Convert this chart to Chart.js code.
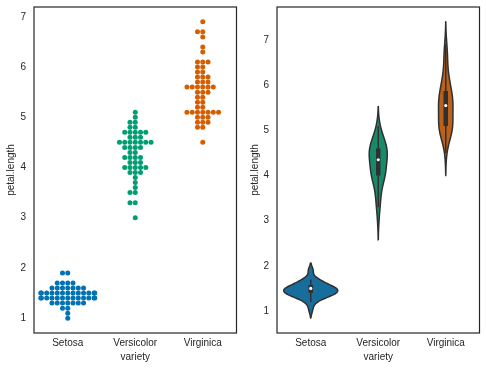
<!DOCTYPE html>
<html>
<head>
<meta charset="utf-8">
<script src="https://cdn.jsdelivr.net/npm/chart.js@4.4.0/dist/chart.umd.min.js"></script>
<style>
  html, body { margin: 0; padding: 0; background: #fff; }
  .wrap { display: flex; width: 486px; height: 369px; }
  .panel { position: relative; width: 243px; height: 369px; }
</style>
</head>
<body>
<div class="wrap">
  <div class="panel"><canvas id="swarm"></canvas></div>
  <div class="panel"><canvas id="violin"></canvas></div>
</div>
<script>
const categories = ['Setosa', 'Versicolor', 'Virginica'];
const yTicks = [1, 2, 3, 4, 5, 6, 7];

// petal length values and how many flowers have each one
const setosaLengths = [1.0, 1.1, 1.2, 1.3, 1.4, 1.5, 1.6, 1.7, 1.9];
const setosaCounts = [1, 1, 2, 7, 13, 13, 7, 4, 2];
const versicolorLengths = [3.0, 3.3, 3.5, 3.6, 3.7, 3.8, 3.9, 4.0, 4.1, 4.2, 4.3, 4.4, 4.5, 4.6, 4.7, 4.8, 4.9, 5.0, 5.1];
const versicolorCounts = [1, 2, 2, 1, 1, 1, 3, 5, 3, 4, 2, 4, 7, 3, 5, 2, 2, 1, 1];
const virginicaLengths = [4.5, 4.8, 4.9, 5.0, 5.1, 5.2, 5.3, 5.4, 5.5, 5.6, 5.7, 5.8, 5.9, 6.0, 6.1, 6.3, 6.4, 6.6, 6.7, 6.9];
const virginicaCounts = [1, 2, 3, 3, 7, 2, 2, 2, 3, 6, 3, 3, 2, 2, 3, 1, 1, 1, 2, 1];

const dotColors = ['#0173b2', '#029e73', '#d55e00'];
const violinColors = ['#176d9c', '#168b6a', '#ba611b'];
const gray = '#303030';
const ink = '#262626';
const font = { family: "'Liberation Sans', Arial, sans-serif", size: 10 };

const lengths = [setosaLengths, versicolorLengths, virginicaLengths];
const counts = [setosaCounts, versicolorCounts, virginicaCounts];

function expand(values, ns) {
  const out = [];
  values.forEach((v, i) => { for (let k = 0; k < ns[i]; k++) out.push(v); });
  return out;
}
const groups = lengths.map((v, i) => expand(v, counts[i]));
const all = groups.flat();

// beeswarm: dots of one value go 0, -1, +1, -2 ... and stop at the gutter
function swarm(values, ns, center) {
  const pts = [];
  values.forEach((v, i) => {
    for (let k = 0; k < ns[i]; k++) {
      const step = Math.ceil(k / 2) * (k % 2 ? -1 : 1);
      const off = Math.max(-0.4, Math.min(0.4, step * 0.078));
      pts.push({ x: center + off, y: v });
    }
  });
  return pts;
}

// gaussian kde, scott bandwidth, cut = 2
function kde(data) {
  const n = data.length;
  const mean = data.reduce((a, b) => a + b, 0) / n;
  const sd = Math.sqrt(data.reduce((a, b) => a + (b - mean) ** 2, 0) / (n - 1));
  const bw = Math.pow(n, -0.2) * sd;
  const lo = Math.min(...data) - 2 * bw, hi = Math.max(...data) + 2 * bw;
  const ys = [], ds = [];
  for (let i = 0; i < 100; i++) {
    const y = lo + (hi - lo) * i / 99;
    let s = 0;
    data.forEach(x => { const z = (y - x) / bw; s += Math.exp(-0.5 * z * z); });
    ys.push(y);
    ds.push(s / (n * bw * Math.sqrt(2 * Math.PI)));
  }
  return { ys, ds, lo, hi };
}

function pct(sorted, p) {
  const idx = (sorted.length - 1) * p;
  const a = Math.floor(idx), b = Math.ceil(idx);
  return sorted[a] + (sorted[b] - sorted[a]) * (idx - a);
}

const frame = {
  id: 'frame',
  afterDraw(chart) {
    const { ctx, chartArea: a } = chart;
    ctx.save();
    ctx.strokeStyle = ink;
    ctx.lineWidth = 1.2;
    ctx.strokeRect(a.left, a.top, a.right - a.left, a.bottom - a.top);
    ctx.restore();
  }
};

function scales(yMin, yMax, titlePad) {
  return {
    x: {
      type: 'linear', min: -0.5, max: 2.5,
      grid: { display: false, drawTicks: false },
      border: { display: false },
      afterBuildTicks: s => { s.ticks = categories.map((c, i) => ({ value: i })); },
      afterFit: s => { s.height = 36; s.paddingLeft = 0; s.paddingRight = 0; },
      ticks: { color: ink, font, padding: 4, autoSkip: false, maxRotation: 0, callback: v => categories[v] },
      title: { display: true, text: 'variety', color: ink, font, padding: { top: 0, bottom: 6 } }
    },
    y: {
      type: 'linear', min: yMin, max: yMax,
      grid: { display: false, drawTicks: false },
      border: { display: false },
      afterBuildTicks: s => { s.ticks = yTicks.map(v => ({ value: v })); },
      afterFit: s => { s.width = 34; s.paddingTop = 0; s.paddingBottom = 0; },
      ticks: { color: ink, font, padding: 8, callback: v => String(v) },
      title: { display: true, text: 'petal.length', color: ink, font, padding: { top: titlePad, bottom: 0 } }
    }
  };
}

function baseOptions(yMin, yMax, titlePad) {
  return {
    responsive: true,
    maintainAspectRatio: false,
    animation: false,
    layout: { padding: { top: 7, right: 6.5, left: 0, bottom: 0 } },
    plugins: { legend: { display: false }, tooltip: { enabled: false } },
    scales: scales(yMin, yMax, titlePad)
  };
}

// left: swarm plot
const dMin = Math.min(...all), dMax = Math.max(...all);
const dPad = (dMax - dMin) * 0.05;
new Chart(document.getElementById('swarm'), {
  type: 'scatter',
  data: {
    datasets: groups.map((g, i) => ({
      data: swarm(lengths[i], counts[i], i),
      backgroundColor: dotColors[i],
      pointRadius: 2.5,
      borderWidth: 0
    }))
  },
  options: baseOptions(dMin - dPad, dMax + dPad, 5),
  plugins: [frame]
});

// right: violin plot
const dens = groups.map(kde);
const maxDen = Math.max(...dens.map(d => Math.max(...d.ds)));
const vMin = Math.min(...dens.map(d => d.lo)), vMax = Math.max(...dens.map(d => d.hi));
const vPad = (vMax - vMin) * 0.05;

// higher order is drawn first, so violins go under their boxes
const violinSets = [];
groups.forEach((g, i) => {
  const k = dens[i];
  const shape = [];
  k.ys.forEach((y, j) => shape.push({ x: i + k.ds[j] / maxDen * 0.4, y }));
  for (let j = k.ys.length - 1; j >= 0; j--) shape.push({ x: i - k.ds[j] / maxDen * 0.4, y: k.ys[j] });
  shape.push(shape[0]);
  violinSets.push({
    // a little tension keeps chart.js off its fast path, which stairs near-vertical lines
    data: shape, showLine: true, fill: 'shape', tension: 0.3, order: 3,
    backgroundColor: violinColors[i], borderColor: gray, borderWidth: 1.5,
    pointRadius: 0
  });

  const s = g.slice().sort((a, b) => a - b);
  const q25 = pct(s, 0.25), q50 = pct(s, 0.5), q75 = pct(s, 0.75);
  const lim = 1.5 * (q75 - q25);
  const h1 = Math.min(...s.filter(v => v >= q25 - lim));
  const h2 = Math.max(...s.filter(v => v <= q75 + lim));
  violinSets.push({
    data: [{ x: i, y: h1 }, { x: i, y: h2 }], showLine: true, order: 2,
    borderColor: gray, borderWidth: 1.5, pointRadius: 0, borderCapStyle: 'butt'
  });
  violinSets.push({
    data: [{ x: i, y: q25 }, { x: i, y: q75 }], showLine: true, order: 1,
    borderColor: gray, borderWidth: 4.5, pointRadius: 0, borderCapStyle: 'butt'
  });
  violinSets.push({
    data: [{ x: i, y: q50 }], order: 0,
    backgroundColor: '#ffffff', pointRadius: 1.6, borderWidth: 0
  });
});

new Chart(document.getElementById('violin'), {
  type: 'scatter',
  data: { datasets: violinSets },
  options: baseOptions(vMin - vPad, vMax + vPad, 6),
  plugins: [frame]
});
</script>
</body>
</html>
